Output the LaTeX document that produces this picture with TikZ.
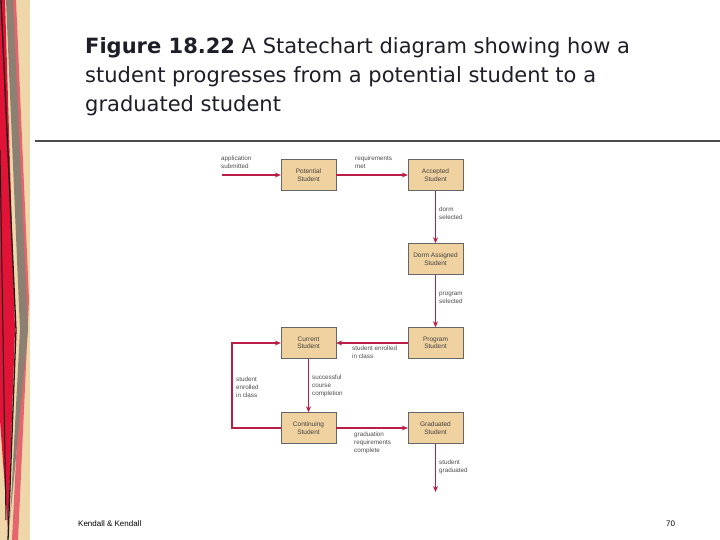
\documentclass[tikz,border=0pt]{standalone}
\usepackage{fontspec}
\setmainfont{Liberation Sans}
\newfontfamily\titlefont{DejaVu Sans}
\usetikzlibrary{arrows.meta}
\definecolor{boxfill}{RGB}{240,210,160}
\definecolor{arrowred}{RGB}{185,30,70}
\definecolor{beige}{RGB}{240,215,170}
\definecolor{pinkred}{RGB}{230,100,110}
\definecolor{brightred}{RGB}{225,20,55}
\definecolor{titlecol}{RGB}{30,30,40}
\begin{document}
\begin{tikzpicture}[x=1pt,y=-1pt,
  st/.style={draw=black!60,fill=boxfill,minimum width=55pt,minimum height=31pt,inner sep=1pt,align=center,font=\fontsize{6.5}{7.5}\selectfont,text=black!75},
  ar/.style={draw=arrowred,line width=1.8pt,-{Stealth[length=6pt,width=5pt]}},
  lb/.style={anchor=north west,align=left,font=\fontsize{6.3}{8}\selectfont,text=black!70,inner sep=0pt}]
\useasboundingbox (0,0) rectangle (720,540);
\fill[white] (0,0) rectangle (720,540);
% decorative strip
\fill[beige] (0,0) rectangle (30,540);
\fill[pinkred] (10,0) -- (16,0) -- (29,300) -- (18,540) -- (12,540) -- (24,300) -- cycle;
\fill[gray!80!brown] (6,0) -- (13,0) -- (28,330) -- (10,520) -- (20,330) -- cycle;
\fill[brightred] (0,0) -- (5,0) -- (15,330) -- (8,530) -- (0,420) -- cycle;
\draw[black!90,line width=1.3pt] (1,0) -- (16,330) -- (8,540);
\draw[black!90,line width=1pt] (0,150) -- (6,520);
% title
\node[anchor=north west,align=left,inner sep=0pt,font=\titlefont\fontsize{21}{29}\selectfont,text=titlecol] (title) at (85,37)
 {\textbf{Figure 18.22} A Statechart diagram showing how a\\student progresses from a potential student to a\\graduated student};
\draw[black!70,line width=2pt] (35,141) -- (720,141);
% states
\node[st] (pot) at (308.5,175) {Potential\\Student};
\node[st] (acc) at (435.5,175) {Accepted\\Student};
\node[st] (dorm) at (435.5,259) {Dorm Assigned\\Student};
\node[st] (prog) at (435.5,343) {Program\\Student};
\node[st] (cur) at (308.5,343) {Current\\Student};
\node[st] (cont) at (308.5,428) {Continuing\\Student};
\node[st] (grad) at (435.5,428) {Graduated\\Student};
\coordinate (start) at (222,175);
\coordinate (endp) at (435.5,492);
\coordinate (loopa) at (232,428);
\coordinate (loopb) at (232,343);
\draw[ar] (start) -- (pot);
\draw[ar] (pot) -- (acc);
\draw[ar] (acc) -- (dorm);
\draw[ar] (dorm) -- (prog);
\draw[ar] (prog) -- (cur);
\draw[ar] (cur) -- (cont);
\draw[ar] (cont) -- (grad);
\draw[ar] (cont.west) -- (loopa) -- (loopb) -- (cur.west);
\draw[ar] (grad) -- (endp);
% labels
\node[lb] (l1) at (221,156) {application\\submitted};
\node[lb] (l2) at (355,156) {requirements\\met};
\node[lb] (l3) at (439,207) {dorm\\selected};
\node[lb] (l4) at (439,292) {program\\selected};
\node[lb] (l5) at (352,346) {student enrolled\\in class};
\node[lb] (l6) at (312,375) {successful\\course\\completion};
\node[lb] (l7) at (236,377) {student\\enrolled\\in class};
\node[lb] (l8) at (354,432) {graduation\\requirements\\complete};
\node[lb] (l9) at (439,460) {student\\graduated};
% footer
\node[anchor=west,font=\fontsize{8}{9}\selectfont,inner sep=0pt] (f1) at (78,524) {Kendall \& Kendall};
\node[anchor=west,font=\fontsize{8}{9}\selectfont,inner sep=0pt] (f2) at (666,524) {70};
\end{tikzpicture}
\end{document}
